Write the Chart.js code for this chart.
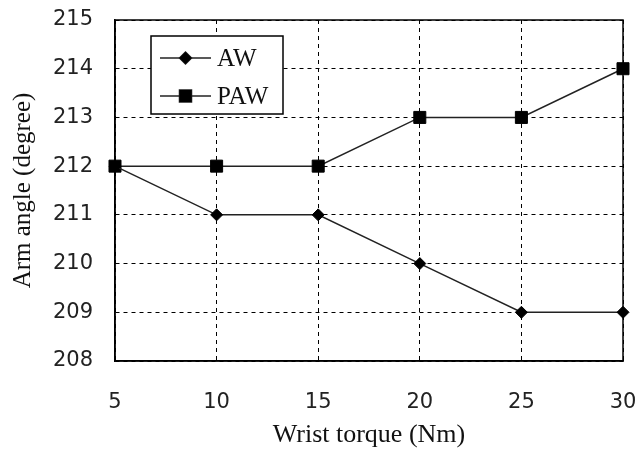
<!DOCTYPE html>
<html>
<head>
<meta charset="utf-8">
<script src="https://cdn.jsdelivr.net/npm/chart.js@4"></script>
<style>
    html, body { margin: 0; padding: 0; background: #fff; }
    #wrap { width: 638px; height: 461px; }
</style>
</head>
<body>
<div id="wrap"><canvas id="armChart"></canvas></div>
<script>
const torqueValues = [5, 10, 15, 20, 25, 30];
const awAngles = [212, 211, 211, 210, 209, 209];
const pawAngles = [212, 212, 212, 213, 213, 214];
const yTicks = [208, 209, 210, 211, 212, 213, 214, 215];

const serif = '"Liberation Serif", "Times New Roman", serif';
const sans = '"DejaVu Sans", sans-serif';

// solid frame around the plot area
const frame = {
    id: 'frame',
    afterDatasetsDraw(chart) {
        const a = chart.chartArea;
        const ctx = chart.ctx;
        ctx.save();
        ctx.strokeStyle = '#000';
        ctx.lineWidth = 1.5;
        ctx.setLineDash([]);
        ctx.strokeRect(a.left, a.top, a.right - a.left, a.bottom - a.top);
        ctx.restore();
    }
};

// boxed legend inside the plot, top-left
const boxLegend = {
    id: 'boxLegend',
    afterDraw(chart) {
        const ctx = chart.ctx;
        const x0 = 151, y0 = 36, w = 132, h = 78;
        ctx.save();
        ctx.fillStyle = '#fff';
        ctx.fillRect(x0, y0, w, h);
        ctx.strokeStyle = '#000';
        ctx.lineWidth = 1.5;
        ctx.strokeRect(x0, y0, w, h);
        chart.data.datasets.forEach((ds, i) => {
            const y = y0 + 22 + i * 38;
            ctx.strokeStyle = ds.borderColor;
            ctx.lineWidth = ds.borderWidth;
            ctx.beginPath();
            ctx.moveTo(160, y);
            ctx.lineTo(211, y);
            ctx.stroke();
            ctx.fillStyle = '#000';
            Chart.helpers.drawPoint(ctx, {
                pointStyle: ds.pointStyle,
                radius: ds.pointRadius,
                borderWidth: 1
            }, 185.5, y);
            ctx.fill();
            ctx.fillStyle = '#111';
            ctx.font = '25px ' + serif;
            ctx.textBaseline = 'middle';
            ctx.fillText(ds.label, 217, y + 1);
        });
        ctx.restore();
    }
};

const ctx = document.getElementById('armChart').getContext('2d');
new Chart(ctx, {
    type: 'line',
    data: {
        datasets: [
            {
                label: 'AW',
                data: torqueValues.map((t, i) => ({x: t, y: awAngles[i]})),
                borderColor: '#222',
                borderWidth: 1.5,
                backgroundColor: '#000',
                pointBackgroundColor: '#000',
                pointBorderColor: '#000',
                pointStyle: 'rectRot',
                pointRadius: 6,
                pointBorderWidth: 1,
                clip: false
            },
            {
                label: 'PAW',
                data: torqueValues.map((t, i) => ({x: t, y: pawAngles[i]})),
                borderColor: '#222',
                borderWidth: 1.5,
                backgroundColor: '#000',
                pointBackgroundColor: '#000',
                pointBorderColor: '#000',
                pointStyle: 'rect',
                pointRadius: 8.5,
                pointBorderWidth: 1,
                clip: false
            }
        ]
    },
    options: {
        responsive: true,
        maintainAspectRatio: false,
        animation: false,
        layout: {padding: {top: 20, right: 15, left: 0, bottom: 0}},
        plugins: {
            legend: {display: false},
            tooltip: {enabled: false}
        },
        scales: {
            x: {
                type: 'linear',
                min: 5,
                max: 30,
                afterBuildTicks: s => { s.ticks = torqueValues.map(v => ({value: v})); },
                afterFit: s => {
                    s.height = 100;
                    s.paddingLeft = 0;
                    s.paddingRight = 0;
                },
                grid: {
                    color: '#000',
                    lineWidth: 1,
                    drawTicks: false
                },
                border: {display: true, color: '#000', width: 1.5, dash: [4, 4]},
                ticks: {
                    color: '#222',
                    padding: 29,
                    maxRotation: 0,
                    font: {family: sans, size: 21}
                },
                title: {
                    display: true,
                    text: 'Wrist torque (Nm)',
                    color: '#111',
                    padding: {top: 10, bottom: 10},
                    font: {family: serif, size: 26}
                }
            },
            y: {
                min: 208,
                max: 215,
                afterBuildTicks: s => { s.ticks = yTicks.map(v => ({value: v})); },
                afterFit: s => {
                    s.width = 115;
                    s.paddingTop = 0;
                    s.paddingBottom = 0;
                },
                grid: {
                    color: '#000',
                    lineWidth: 1,
                    drawTicks: false
                },
                border: {display: true, color: '#000', width: 1.5, dash: [4, 4]},
                ticks: {
                    color: '#222',
                    padding: 22,
                    font: {family: sans, size: 21}
                },
                title: {
                    display: true,
                    text: 'Arm angle (degree)',
                    color: '#111',
                    padding: {top: 8, bottom: 8},
                    font: {family: serif, size: 25}
                }
            }
        }
    },
    plugins: [frame, boxLegend]
});
</script>
</body>
</html>
